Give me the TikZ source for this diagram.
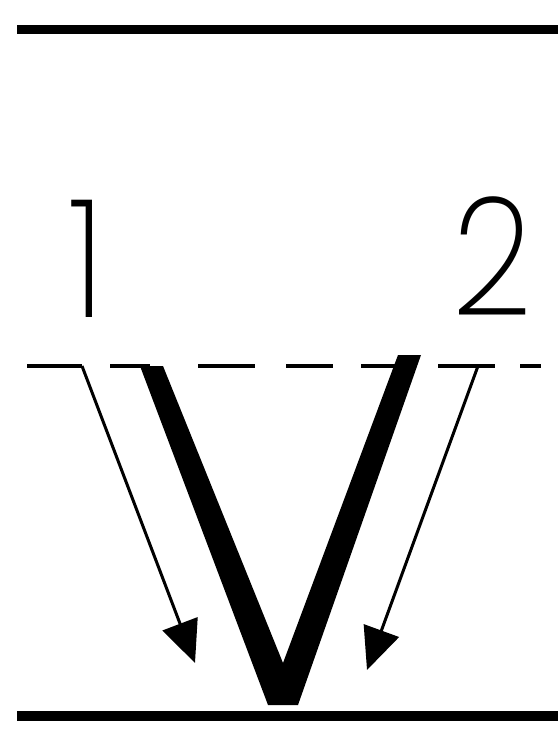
\documentclass[tikz,border=0pt]{standalone}
\usepackage{fontspec}
\usepackage{graphicx}
\usetikzlibrary{arrows.meta}
\IfFontExistsTF{Poppins ExtraLight}
  {\newfontfamily\digitfont{Poppins ExtraLight}}
  {\newfontfamily\digitfont{Poppins}}
\tikzset{
  wall/.style={line width=9pt},
  dashline/.style={line width=4pt},
  ray/.style={line width=3pt, -{Triangle[length=42pt,width=37pt]}},
  lbl/.style={anchor=base, inner sep=0pt,
    font=\digitfont\fontsize{165}{165}\selectfont},
}
\begin{document}
\begin{tikzpicture}[x=1pt, y=-1pt]
  \useasboundingbox (0,0) rectangle (558,731);
  \draw[wall] (17,29) -- (558,29);
  \draw[wall, line width=10pt] (17,716) -- (558,716);
  \foreach \a/\b in {27/82,110/150,198/255,286/333,361/410,438/495,520/541}{
    \draw[dashline] (\a,366) -- (\b,366);
  }
  \fill (140,366) -- (163,366) -- (283,663) -- (398,355) -- (421,355)
    -- (298,705) -- (268,705) -- cycle;
  \coordinate (s1) at (82,366);
  \coordinate (t1) at (195,663);
  \coordinate (s2) at (478,366);
  \coordinate (t2) at (367,670);
  \draw[ray] (s1) -- (t1);
  \draw[ray] (s2) -- (t2);
  \node[lbl] (one) at (87,317) {\scalebox{0.85}[1]{1}};
  \node[lbl] (two) at (492,315) {\scalebox{0.85}[1]{2}};
\end{tikzpicture}
\end{document}
